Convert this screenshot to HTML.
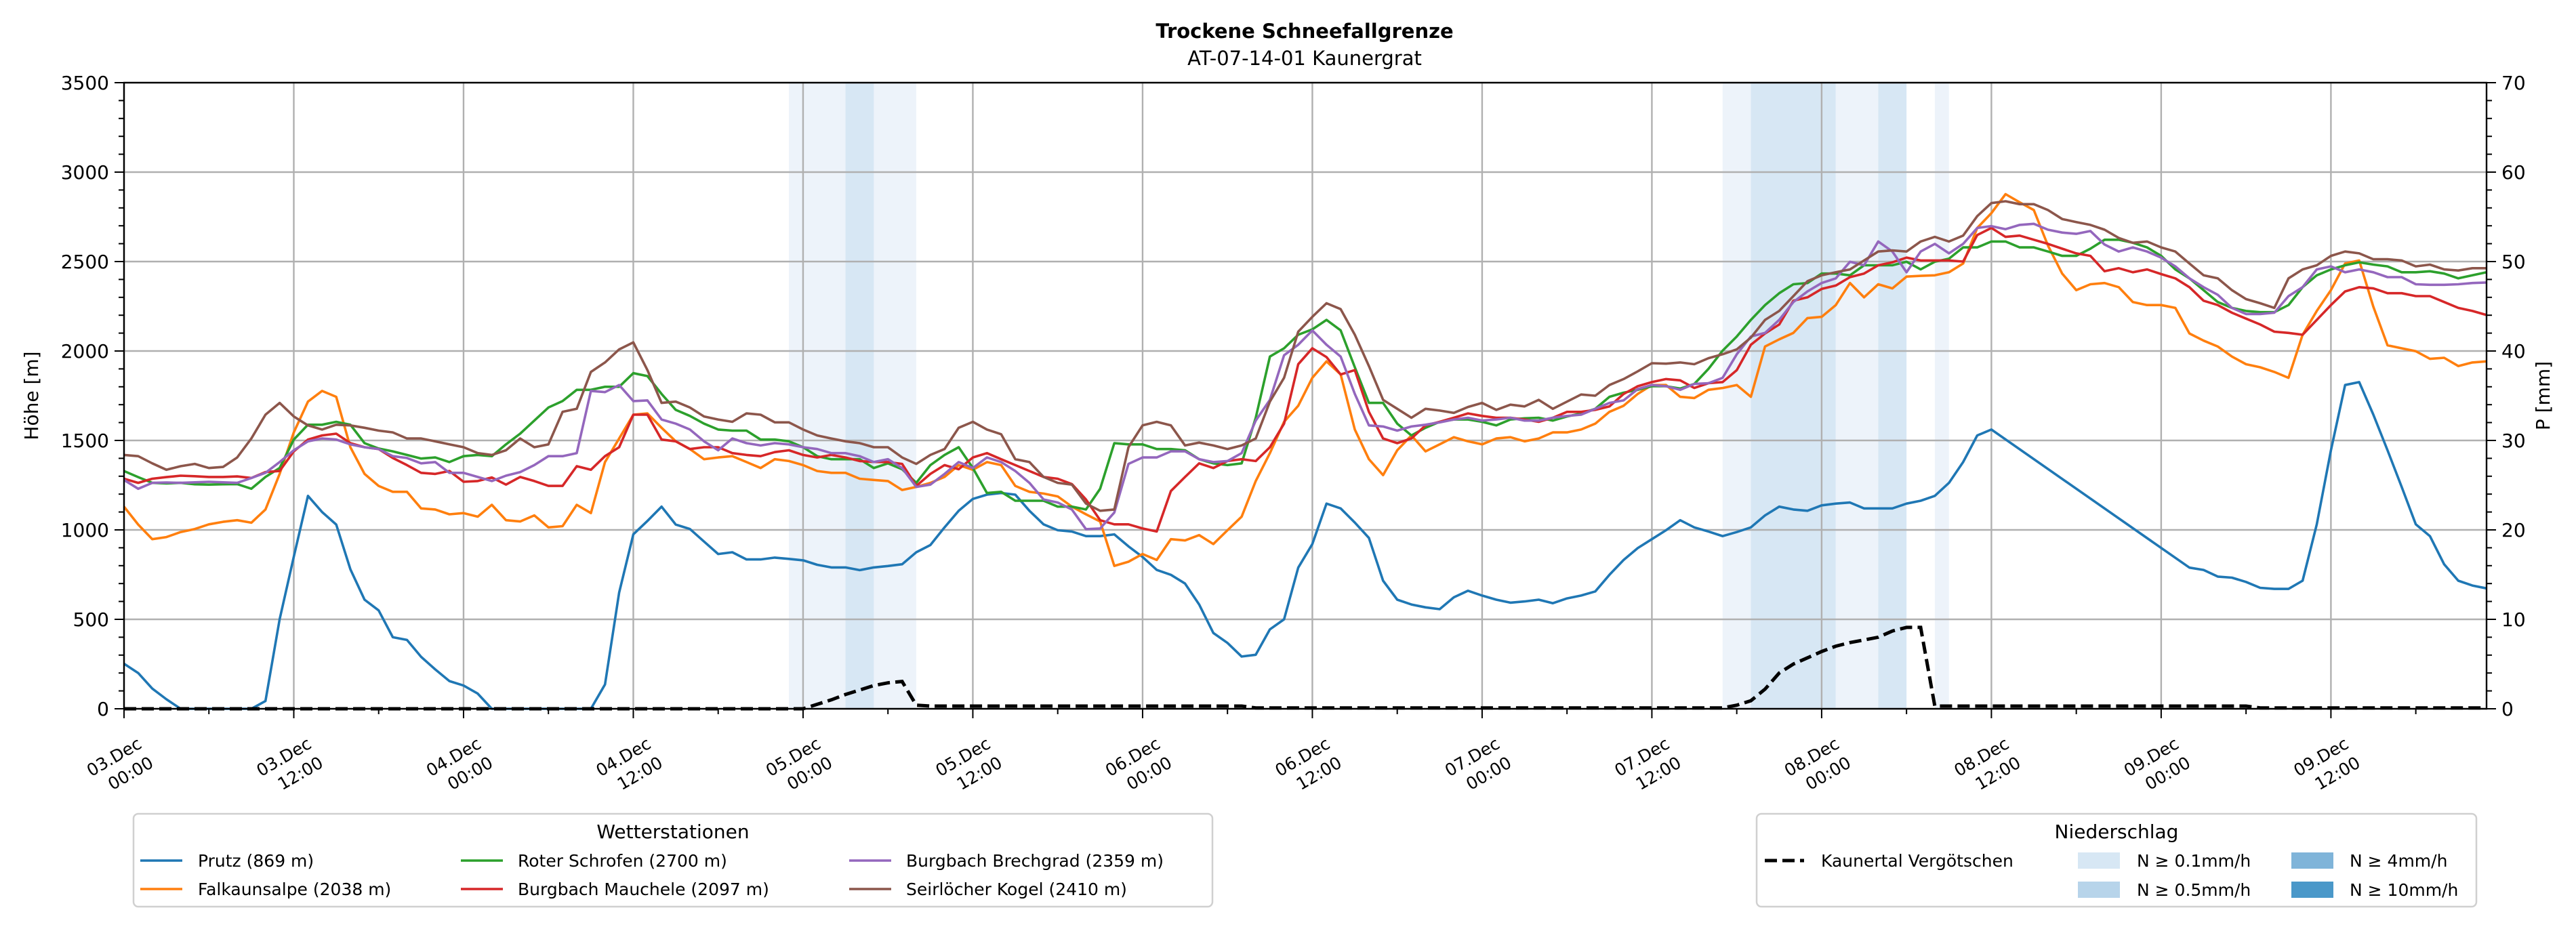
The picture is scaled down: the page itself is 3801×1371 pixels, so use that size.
<!DOCTYPE html>
<html><head><meta charset="utf-8"><style>
html,body{margin:0;padding:0;background:#fff;}
svg{display:block;font-family:"DejaVu Sans","Liberation Sans",sans-serif;}
</style></head><body>
<svg id="chart" width="3801" height="1371" viewBox="0 0 3801 1371" xmlns="http://www.w3.org/2000/svg">
<rect width="3801" height="1371" fill="#fff"/>
<text x="1925" y="56" text-anchor="middle" font-size="29" font-weight="bold">Trockene Schneefallgrenze</text>
<text x="1925" y="96" text-anchor="middle" font-size="29">AT-07-14-01 Kaunergrat</text>
<g id="bands"></g><g id="grid"></g><g id="series"></g><g id="axes"></g><g id="legends"></g>
</svg>
<script>
const hours=[];for(let h=0;h<168;h++)hours.push(h);
const xTickLabels=[["03.Dec","00:00"],["03.Dec","12:00"],["04.Dec","00:00"],["04.Dec","12:00"],["05.Dec","00:00"],["05.Dec","12:00"],["06.Dec","00:00"],["06.Dec","12:00"],["07.Dec","00:00"],["07.Dec","12:00"],["08.Dec","00:00"],["08.Dec","12:00"],["09.Dec","00:00"],["09.Dec","12:00"]];
const yTicks=[0,500,1000,1500,2000,2500,3000,3500];
const pTicks=[0,10,20,30,40,50,60,70];
const stationNames=["Prutz (869 m)","Falkaunsalpe (2038 m)","Roter Schrofen (2700 m)","Burgbach Mauchele (2097 m)","Burgbach Brechgrad (2359 m)","Seirlöcher Kogel (2410 m)"];
const stationColors=["#1f77b4","#ff7f0e","#2ca02c","#d62728","#9467bd","#8c564b"];
const prutz=[252,200,113,53,0,0,0,0,0,0,43,500,850,1190,1100,1030,780,610,550,400,385,290,220,155,130,85,0,0,0,0,0,0,0,0,136,650,975,1050,1130,1030,1005,935,865,875,835,835,845,838,830,805,790,790,775,790,798,808,875,915,1014,1107,1173,1197,1206,1197,1107,1031,998,991,965,965,975,908,849,776,749,700,583,424,368,292,302,444,500,789,921,1147,1120,1041,955,716,610,583,567,557,623,660,633,610,593,600,610,590,617,633,656,749,832,898,948,998,1054,1014,991,965,988,1014,1081,1130,1114,1107,1137,1147,1153,1120,1120,1120,1147,1163,1190,1263,1379,1528,1561,null,null,null,null,null,null,null,null,null,null,null,null,null,789,776,739,733,709,676,670,670,716,1031,1445,1810,1826,1644,1445,1240,1031,965,808,716,689,673];
const falkaunsalpe=[1130,1030,948,960,988,1005,1031,1045,1054,1040,1114,1313,1545,1717,1777,1744,1462,1313,1246,1213,1213,1120,1114,1087,1094,1074,1140,1054,1047,1081,1014,1021,1140,1094,1379,1511,1644,1651,1571,1495,1452,1395,1405,1412,1379,1346,1395,1385,1362,1329,1319,1319,1286,1279,1273,1223,1240,1263,1296,1362,1336,1379,1362,1246,1213,1203,1187,1130,1087,1047,799,822,865,832,948,941,971,921,998,1074,1273,1429,1604,1694,1850,1942,1869,1561,1395,1306,1445,1528,1439,1478,1518,1495,1478,1511,1518,1495,1511,1545,1545,1561,1594,1660,1694,1760,1810,1810,1744,1737,1783,1793,1810,1744,2025,2065,2101,2184,2191,2257,2380,2300,2373,2350,2416,2420,2423,2440,2489,2688,2771,2877,2831,2788,2589,2433,2340,2373,2380,2357,2274,2257,2257,2241,2098,2058,2025,1969,1926,1909,1883,1850,2091,2224,2340,2489,2506,2247,2032,2015,1999,1956,1962,1916,1936,1942];
const roterSchrofen=[1329,1295,1263,1260,1263,1255,1253,1255,1256,1230,1296,1346,1505,1588,1588,1604,1588,1485,1455,1439,1419,1399,1405,1379,1412,1419,1412,1478,1538,1611,1684,1720,1783,1783,1800,1800,1876,1860,1760,1671,1637,1594,1561,1555,1555,1505,1505,1495,1462,1412,1395,1395,1395,1346,1372,1339,1263,1362,1419,1462,1346,1206,1213,1163,1163,1163,1130,1130,1114,1230,1485,1478,1478,1452,1452,1445,1395,1372,1362,1372,1627,1969,2015,2091,2121,2174,2115,1909,1710,1710,1594,1528,1571,1604,1617,1617,1604,1584,1617,1624,1627,1611,1634,1651,1677,1744,1767,1783,1803,1803,1790,1816,1900,2002,2081,2174,2257,2323,2373,2380,2433,2433,2423,2479,2479,2479,2499,2456,2499,2516,2579,2579,2612,2612,2579,2579,2556,2532,2532,2572,2622,2622,2605,2579,2532,2456,2406,2340,2274,2241,2224,2217,2217,2257,2357,2423,2456,2479,2496,2483,2473,2440,2440,2446,2433,2406,2423,2440];
const mauchele=[1286,1263,1286,1295,1303,1300,1296,1296,1299,1290,1323,1329,1439,1505,1528,1538,1485,1462,1452,1402,1362,1319,1313,1329,1269,1273,1293,1253,1296,1273,1246,1246,1356,1336,1412,1462,1644,1644,1505,1495,1452,1462,1462,1429,1419,1412,1435,1445,1419,1405,1419,1405,1385,1380,1379,1369,1246,1313,1362,1339,1405,1429,1395,1362,1329,1296,1286,1256,1170,1054,1031,1031,1008,991,1217,1296,1372,1346,1385,1395,1385,1462,1594,1926,2015,1966,1869,1893,1660,1511,1485,1511,1584,1604,1627,1651,1637,1627,1627,1617,1604,1627,1660,1660,1671,1690,1760,1803,1826,1843,1836,1793,1820,1826,1893,2035,2098,2148,2281,2300,2347,2366,2413,2433,2479,2496,2522,2506,2506,2506,2500,2648,2688,2638,2645,2622,2599,2572,2546,2532,2446,2463,2440,2456,2430,2406,2357,2281,2257,2214,2181,2148,2108,2101,2091,2174,2257,2333,2357,2350,2323,2323,2307,2307,2274,2241,2224,2201];
const brechgrad=[1279,1230,1263,1265,1263,1266,1269,1266,1263,1290,1319,1379,1445,1495,1511,1505,1478,1462,1452,1412,1402,1372,1379,1319,1319,1296,1273,1303,1323,1362,1412,1412,1429,1777,1770,1810,1720,1724,1617,1594,1561,1495,1445,1511,1485,1472,1485,1478,1462,1452,1429,1429,1412,1379,1395,1346,1240,1253,1313,1379,1346,1405,1379,1329,1263,1170,1153,1114,1004,1008,1097,1369,1405,1405,1439,1439,1395,1379,1385,1429,1611,1727,1976,2035,2115,2035,1969,1760,1584,1578,1555,1578,1588,1601,1617,1627,1611,1617,1627,1611,1611,1627,1637,1644,1677,1710,1724,1787,1810,1803,1783,1816,1820,1850,1982,2081,2101,2174,2274,2333,2380,2406,2499,2479,2612,2556,2440,2556,2599,2546,2599,2688,2698,2681,2705,2711,2678,2662,2655,2671,2595,2556,2579,2556,2522,2473,2406,2357,2314,2241,2207,2207,2214,2307,2357,2456,2473,2440,2456,2440,2413,2413,2373,2370,2370,2373,2380,2383];
const seirloecher=[1419,1412,1372,1336,1356,1369,1346,1352,1405,1511,1644,1710,1634,1584,1561,1588,1584,1571,1555,1545,1511,1511,1495,1478,1462,1429,1419,1445,1511,1462,1478,1660,1677,1883,1936,2009,2048,1893,1710,1717,1684,1634,1617,1604,1651,1644,1601,1601,1561,1528,1511,1495,1485,1462,1462,1405,1369,1419,1452,1571,1604,1561,1535,1395,1379,1296,1263,1253,1147,1107,1114,1462,1584,1604,1584,1472,1488,1472,1452,1472,1511,1717,1850,2108,2191,2267,2234,2091,1916,1727,1677,1627,1677,1667,1654,1687,1710,1671,1700,1690,1727,1677,1717,1757,1750,1810,1843,1886,1932,1929,1936,1926,1960,1982,2009,2075,2174,2224,2307,2390,2423,2440,2456,2506,2556,2562,2556,2612,2638,2612,2645,2754,2827,2837,2821,2821,2788,2738,2721,2705,2678,2632,2605,2612,2579,2556,2489,2423,2406,2340,2290,2267,2241,2406,2456,2479,2532,2556,2546,2513,2513,2506,2473,2483,2456,2450,2463,2463];
const precip=[0,0,0,0,0,0,0,0,0,0,0,0,0,0,0,0,0,0,0,0,0,0,0,0,0,0,0,0,0,0,0,0,0,0,0,0,0,0,0,0,0,0,0,0,0,0,0,0,0,0.5,1.0,1.6,2.1,2.6,2.9,3.05,0.4,0.3,0.3,0.3,0.3,0.3,0.3,0.3,0.3,0.3,0.3,0.3,0.3,0.3,0.3,0.3,0.3,0.3,0.3,0.3,0.3,0.3,0.3,0.3,0.1,0.1,0.1,0.1,0.1,0.1,0.1,0.1,0.1,0.1,0.1,0.1,0.1,0.1,0.1,0.1,0.1,0.1,0.1,0.1,0.1,0.1,0.1,0.1,0.1,0.1,0.1,0.1,0.1,0.1,0.1,0.1,0.1,0.1,0.4,0.9,2.2,4.0,5.0,5.7,6.4,7.0,7.4,7.7,8.0,8.7,9.1,9.1,0.3,0.3,0.3,0.3,0.3,0.3,0.3,0.3,0.3,0.3,0.3,0.3,0.3,0.3,0.3,0.3,0.3,0.3,0.3,0.3,0.3,0.3,0.3,0.1,0.1,0.1,0.1,0.1,0.1,0.1,0.1,0.1,0.1,0.1,0.1,0.1,0.1,0.1,0.1,0.1];
const bandStart=[47,51,113,115,121,124,128];
const bandEnd=[56,53,115,121,124,126,129];
const bandLevel=[0,1,0,1,0,1,0];
const stations=[prutz,falkaunsalpe,roterSchrofen,mauchele,brechgrad,seirloecher];
const stationKeys=["prutz","falkaunsalpe","roter-schrofen","burgbach-mauchele","burgbach-brechgrad","seirloecher-kogel"];

const NS="http://www.w3.org/2000/svg";
const L=183,R=3669,T=122,B=1046;
const x=h=>L+(h/167)*(R-L);
const y=v=>B-(v/3500)*(B-T);
const yp=v=>B-(v/70)*(B-T);
function mk(tag,attrs,parent){const e=document.createElementNS(NS,tag);for(const k in attrs)e.setAttribute(k,attrs[k]);parent.appendChild(e);return e;}
const gB=document.getElementById('bands'),gG=document.getElementById('grid'),gS=document.getElementById('series'),gA=document.getElementById('axes'),gL=document.getElementById('legends');
const bandCols=["#edf3fa","#d7e7f4"];
bandStart.forEach((s,i)=>{const r=mk('rect',{x:x(s),y:T,width:x(bandEnd[i])-x(s),height:B-T,fill:bandCols[bandLevel[i]]},gB);

});
xTickLabels.forEach((lb,i)=>{const xx=x(i*12);const l=mk('line',{x1:xx,x2:xx,y1:T,y2:B,stroke:'#b0b0b0','stroke-width':2.4},gG);

});
yTicks.forEach(v=>{const l=mk('line',{x1:L,x2:R,y1:y(v),y2:y(v),stroke:'#b0b0b0','stroke-width':2.4},gG);

});
stations.forEach((arr,si)=>{let d='';arr.forEach((v,i)=>{if(v===null)return;d+=(d?'L':'M')+x(hours[i]).toFixed(1)+','+y(v).toFixed(1);});
const p=mk('path',{d:d,fill:'none',stroke:stationColors[si],'stroke-width':3.6,'stroke-linejoin':'round'},gS);

});
{let d='';precip.forEach((v,i)=>{d+=(i?'L':'M')+x(hours[i]).toFixed(1)+','+yp(v).toFixed(1);});
const p=mk('path',{d:d,fill:'none',stroke:'#000','stroke-width':5,'stroke-dasharray':'18,8'},gS);

}
// frame
const fr=mk('rect',{x:L,y:T,width:R-L,height:B-T,fill:'none',stroke:'#000','stroke-width':2.4},gA);


for(let v=0;v<=3500;v+=100){const major=v%500===0;mk('line',{x1:L,x2:L-(major?14:8),y1:y(v),y2:y(v),stroke:'#000','stroke-width':2},gA);}
for(let v=0;v<=70;v+=2){const major=v%10===0;mk('line',{x1:R,x2:R+(major?14:8),y1:yp(v),y2:yp(v),stroke:'#000','stroke-width':2},gA);}
for(let h=0;h<=167;h+=6){const major=h%12===0;mk('line',{x1:x(h),x2:x(h),y1:B,y2:B+(major?14:8),stroke:'#000','stroke-width':2},gA);}
yTicks.forEach(v=>{const t=mk('text',{x:L-22,y:y(v)+10,'text-anchor':'end','font-size':28},gA);t.textContent=v;

});
pTicks.forEach(v=>{const t=mk('text',{x:R+22,y:yp(v)+10,'font-size':28},gA);t.textContent=v;

});
xTickLabels.forEach((lb,i)=>{const g=mk('g',{transform:'translate('+(x(i*12)-2)+',1129) rotate(-30)'},gA);


const a=mk('text',{x:-5,y:-8,'text-anchor':'middle','font-size':25},g);a.textContent=lb[0];
const b=mk('text',{x:4,y:25,'text-anchor':'middle','font-size':25},g);b.textContent=lb[1];});
const yl=mk('text',{transform:'translate(56,584) rotate(-90)','text-anchor':'middle','font-size':28},gA);yl.textContent='Höhe [m]';


const yr=mk('text',{transform:'translate(3762,584) rotate(-90)','text-anchor':'middle','font-size':28},gA);yr.textContent='P [mm]';


// legend left
const lg1=mk('g',{},gL);


mk('rect',{x:197,y:1201,width:1592,height:137,rx:7,fill:'#fff',stroke:'#d0d0d0','stroke-width':2.5},lg1);
const t1=mk('text',{x:993,y:1237,'text-anchor':'middle','font-size':28},lg1);t1.textContent='Wetterstationen';
const colX=[[207,292],[680,764],[1253,1337]];
stationNames.forEach((n,i)=>{const c=Math.floor(i/2),r=i%2;const yy=1270+r*42;
const e=mk('g',{},lg1);


mk('line',{x1:colX[c][0],x2:colX[c][0]+62,y1:yy,y2:yy,stroke:stationColors[i],'stroke-width':3.6},e);
const t=mk('text',{x:colX[c][1],y:yy+9,'font-size':25},e);t.textContent=n;});
// legend right
const lg2=mk('g',{},gL);


mk('rect',{x:2592,y:1201,width:1062,height:137,rx:7,fill:'#fff',stroke:'#d0d0d0','stroke-width':2.5},lg2);
const t2=mk('text',{x:3123,y:1237,'text-anchor':'middle','font-size':28},lg2);t2.textContent='Niederschlag';
mk('line',{x1:2604,x2:2662,y1:1270,y2:1270,stroke:'#000','stroke-width':5,'stroke-dasharray':'18,8'},lg2);
const tk=mk('text',{x:2687,y:1279,'font-size':25},lg2);tk.textContent='Kaunertal Vergötschen';
const patchCols=["#d7e7f4","#b7d4ea","#7fb4d9","#4a98c9"];
const patchLabels=["N ≥ 0.1mm/h","N ≥ 0.5mm/h","N ≥ 4mm/h","N ≥ 10mm/h"];
patchLabels.forEach((s,i)=>{const c=Math.floor(i/2),r=i%2;const px=c?3381:3066,tx=c?3467:3153,yy=1270+r*43;
const e=mk('g',{},lg2);


mk('rect',{x:px,y:yy-12,width:62,height:24,fill:patchCols[i]},e);
const t=mk('text',{x:tx,y:yy+9,'font-size':25},e);t.textContent=s;});
</script>
</body></html>
